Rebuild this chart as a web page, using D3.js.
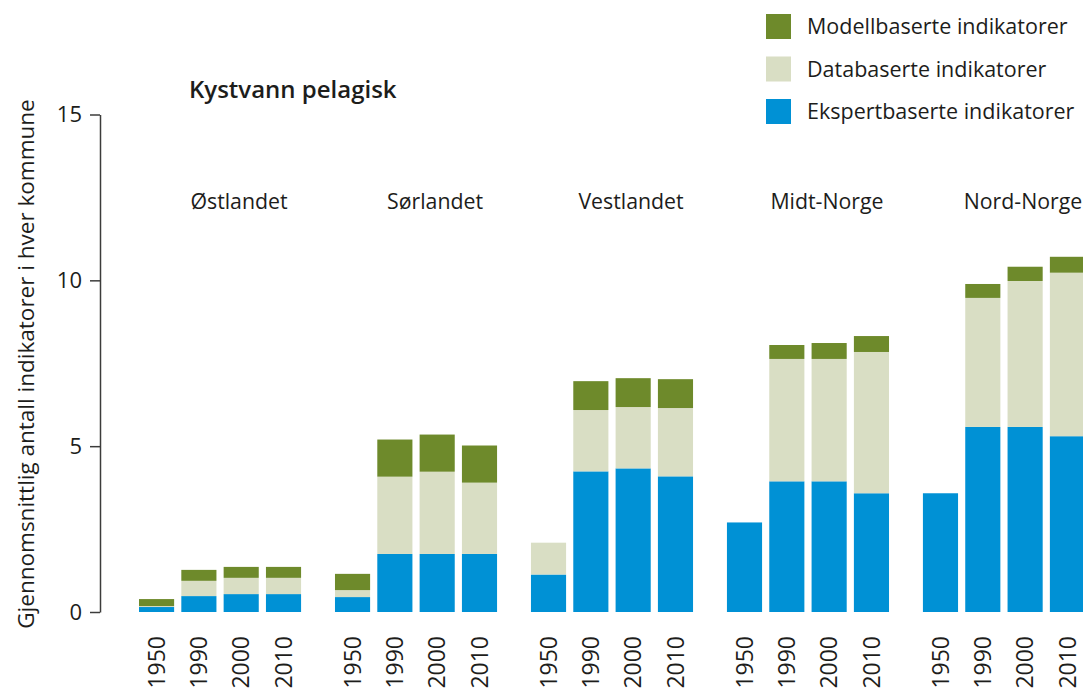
<!DOCTYPE html>
<html>
<head>
<meta charset="utf-8">
<script src="https://cdn.jsdelivr.net/npm/d3@7"></script>
<style>
	body { margin: 0; background: #fff; }
	text { font-family: 'Open Sans', sans-serif; fill: #1d1d1b; }
</style>
</head>
<body>
<div id="chart"></div>
<script>
let regions = ['Østlandet','Sørlandet','Vestlandet','Midt-Norge','Nord-Norge']
let years = ['1950','1990','2000','2010']

// one row per region, one value per year
let ekspert = [
	[0.15, 0.48, 0.54, 0.54],
	[0.45, 1.75, 1.75, 1.75],
	[1.13, 4.24, 4.33, 4.09],
	[2.70, 3.94, 3.94, 3.58],
	[3.58, 5.58, 5.58, 5.30],
]
let database = [
	[0.03, 0.46, 0.49, 0.49],
	[0.21, 2.33, 2.48, 2.15],
	[0.96, 1.85, 1.85, 2.06],
	[0, 3.69, 3.69, 4.26],
	[0, 3.89, 4.40, 4.93],
]
let modell = [
	[0.21, 0.33, 0.33, 0.33],
	[0.49, 1.12, 1.12, 1.12],
	[0, 0.87, 0.87, 0.87],
	[0, 0.42, 0.48, 0.48],
	[0, 0.42, 0.43, 0.48],
]
let yTicks = [0, 5, 10, 15]

let seriesNames = ['Ekspertbaserte indikatorer','Databaserte indikatorer','Modellbaserte indikatorer']
let seriesColors = ['#0091d5','#d9dec4','#6e8a2b']
let legendOrder = [2, 1, 0]

let width = 1083
let height = 693

let table = []
regions.forEach((r, i) => {
	years.forEach((y, j) => {
		table.push({
			region: r,
			year: y,
			'Ekspertbaserte indikatorer': ekspert[i][j],
			'Databaserte indikatorer': database[i][j],
			'Modellbaserte indikatorer': modell[i][j],
		})
	})
})

let stack = d3.stack().keys(seriesNames)(table)

let x0 = d3.scaleBand()
	.domain(regions)
	.range([139, 1085])
	.paddingInner(0.173)
	.paddingOuter(0)

let x1 = d3.scaleBand()
	.domain(years)
	.range([0, x0.bandwidth()])
	.paddingInner(0.17)
	.paddingOuter(0)

let yScale = d3.scaleLinear()
	.domain([0, 15])
	.range([612, 114.5])

let colorScale = d3.scaleOrdinal()
	.domain(seriesNames)
	.range(seriesColors)

let svg = d3.select('#chart').append('svg')
	.attr('width', width)
	.attr('height', height)

// bars
svg.append('g').selectAll('g')
	.data(stack)
	.enter().append('g')
	.attr('fill', (d) => colorScale(d.key))
	.selectAll('rect')
	.data((d) => d)
	.enter().append('rect')
	.attr('x', (d) => x0(d.data.region) + x1(d.data.year))
	.attr('width', x1.bandwidth())
	.attr('y', (d) => yScale(d[1]))
	.attr('height', (d) => yScale(d[0]) - yScale(d[1]))

// y axis
let yAxis = d3.axisLeft(yScale)
	.tickValues(yTicks)
	.tickSize(10)
	.tickSizeOuter(0)
	.tickPadding(8)

let axisG = svg.append('g')
	.attr('transform', 'translate(100,0)')
	.call(yAxis)

axisG.select('.domain').attr('stroke', '#3c3c3b').attr('stroke-width', 1.5)
axisG.selectAll('.tick line').attr('stroke', '#3c3c3b').attr('stroke-width', 1.5)
axisG.selectAll('.tick text')
	.style('font-family', "'Open Sans', sans-serif")
	.style('font-size', '22px')
	.attr('fill', '#1d1d1b')

// year labels under each bar
svg.append('g').selectAll('text')
	.data(table)
	.enter().append('text')
	.attr('transform', (d) => {
		let cx = x0(d.region) + x1(d.year) + x1.bandwidth() / 2
		return 'translate(' + cx + ',636) rotate(-90)'
	})
	.attr('text-anchor', 'end')
	.attr('dy', '0.35em')
	.style('font-size', '23px')
	.text((d) => d.year)

// region labels
svg.append('g').selectAll('text')
	.data(regions)
	.enter().append('text')
	.attr('x', (d) => x0(d) + x0.bandwidth() / 2 + 19)
	.attr('y', 209)
	.attr('text-anchor', 'middle')
	.style('font-size', '21.3px')
	.text((d) => d)

// title
svg.append('text')
	.attr('x', 189)
	.attr('y', 98)
	.style('font-size', '24px')
	.style('font-weight', '600')
	.text('Kystvann pelagisk')

// y label
svg.append('text')
	.attr('transform', 'translate(34,364) rotate(-90)')
	.attr('text-anchor', 'middle')
	.style('font-size', '22.5px')
	.style('font-weight', '500')
	.text('Gjennomsnittlig antall indikatorer i hver kommune')

// legend
let legend = svg.append('g').selectAll('g')
	.data(legendOrder)
	.enter().append('g')
	.attr('transform', (d, i) => 'translate(766,' + (14 + i * 42.5) + ')')

legend.append('rect')
	.attr('width', 25)
	.attr('height', 25)
	.attr('fill', (d) => seriesColors[d])

legend.append('text')
	.attr('x', 41)
	.attr('y', 12.5)
	.attr('dy', '0.35em')
	.style('font-size', '21.5px')
	.text((d) => seriesNames[d])
</script>
</body>
</html>
